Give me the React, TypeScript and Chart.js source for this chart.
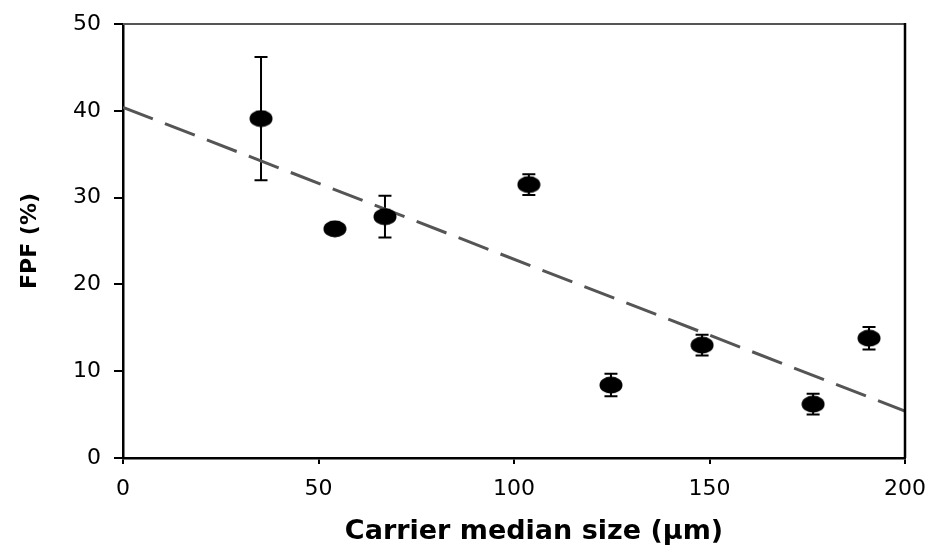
import React, { useEffect, useRef } from "react";
import { Chart, registerables } from "chart.js";

Chart.register(...registerables);

const carrierSize: number[] = [35.3, 54.2, 67.0, 103.8, 124.8, 148.1, 176.5, 190.8];
const fpfValues: number[] = [39.1, 26.4, 27.8, 31.5, 8.4, 13.0, 6.2, 13.8];
const fpfErrors: number[] = [7.1, 0.3, 2.4, 1.2, 1.3, 1.2, 1.2, 1.3];
const trendX: number[] = [0, 200];
const trendY: number[] = [40.4, 5.4];
const xTicks: number[] = [0, 50, 100, 150, 200];
const yTicks: number[] = [0, 10, 20, 30, 40, 50];
const xTitle = "Carrier median size (µm)";
const yTitle = "FPF (%)";

const FONT = "'DejaVu Sans', 'Liberation Sans', Arial, sans-serif";

function makeMarker(): HTMLCanvasElement {
  const c = document.createElement("canvas");
  c.width = 24;
  c.height = 18;
  const g = c.getContext("2d")!;
  g.fillStyle = "#000";
  g.beginPath();
  g.ellipse(12, 9, 11.5, 8.5, 0, 0, Math.PI * 2);
  g.fill();
  return c;
}

const errorBarPlugin = {
  id: "errorBars",
  beforeDatasetsDraw(chart: any) {
    const { ctx, scales } = chart;
    const xs = scales.x;
    const ys = scales.y;
    ctx.save();
    ctx.strokeStyle = "#000";
    ctx.lineWidth = 2;
    for (let i = 0; i < carrierSize.length; i++) {
      const px = xs.getPixelForValue(carrierSize[i]);
      const top = ys.getPixelForValue(fpfValues[i] + fpfErrors[i]);
      const bot = ys.getPixelForValue(fpfValues[i] - fpfErrors[i]);
      ctx.beginPath();
      ctx.moveTo(px, top);
      ctx.lineTo(px, bot);
      ctx.moveTo(px - 6.5, top);
      ctx.lineTo(px + 6.5, top);
      ctx.moveTo(px - 6.5, bot);
      ctx.lineTo(px + 6.5, bot);
      ctx.stroke();
    }
    ctx.restore();
  },
};

const framePlugin = {
  id: "frame",
  afterDraw(chart: any) {
    const { ctx, chartArea } = chart;
    const { left, right, top, bottom } = chartArea;
    ctx.save();
    ctx.lineWidth = 2;
    ctx.strokeStyle = "#555";
    ctx.beginPath();
    ctx.moveTo(left, top);
    ctx.lineTo(right, top);
    ctx.stroke();
    ctx.strokeStyle = "#000";
    ctx.lineWidth = 2.5;
    ctx.beginPath();
    ctx.moveTo(right, top - 1);
    ctx.lineTo(right, bottom);
    ctx.stroke();
    ctx.restore();
  },
};

export default function App() {
  const ref = useRef<HTMLCanvasElement | null>(null);

  useEffect(() => {
    document.body.style.margin = "0";
    const canvas = ref.current;
    if (!canvas) return;
    const marker = makeMarker();
    const chart = new Chart(canvas, {
      type: "scatter",
      data: {
        datasets: [
          {
            type: "line",
            data: trendX.map((x, i) => ({ x, y: trendY[i] })),
            borderColor: "#555",
            borderWidth: 3,
            borderDash: [32, 13],
            pointRadius: 0,
            fill: false,
            order: 2,
          } as any,
          {
            type: "scatter",
            data: carrierSize.map((x, i) => ({ x, y: fpfValues[i] })),
            backgroundColor: "#000",
            borderColor: "#000",
            pointStyle: marker,
            pointRadius: 10,
            pointHoverRadius: 10,
            order: 1,
          },
        ],
      },
      options: {
        animation: false,
        responsive: false,
        maintainAspectRatio: false,
        layout: { padding: { top: 24, right: 28, left: 0, bottom: 0 } },
        plugins: { legend: { display: false }, tooltip: { enabled: false } },
        scales: {
          x: {
            type: "linear",
            min: 0,
            max: 200,
            afterBuildTicks: (s: any) => {
              s.ticks = xTicks.map((v) => ({ value: v }));
            },
            afterFit: (s: any) => {
              s.height = 90;
              s.paddingLeft = 0;
              s.paddingRight = 0;
            },
            afterUpdate: (s: any) => {
              if (!s._shiftedTitle) {
                const orig = s.drawTitle;
                s.drawTitle = function () {
                  this.ctx.save();
                  this.ctx.translate(20, 0);
                  orig.call(this);
                  this.ctx.restore();
                };
                s._shiftedTitle = true;
              }
            },
            grid: {
              drawOnChartArea: false,
              drawTicks: true,
              tickLength: 6,
              color: "#000",
              lineWidth: 2,
            },
            border: { color: "#000", width: 2.5 },
            ticks: {
              padding: 12,
              color: "#000",
              font: { family: FONT, size: 22 },
              maxRotation: 0,
            },
            title: {
              display: true,
              text: xTitle,
              color: "#000",
              font: { family: FONT, size: 27, weight: "bold", lineHeight: 1 },
              padding: { top: 0, bottom: 2.5 },
            },
          },
          y: {
            type: "linear",
            min: 0,
            max: 50,
            afterBuildTicks: (s: any) => {
              s.ticks = yTicks.map((v) => ({ value: v }));
            },
            afterFit: (s: any) => {
              s.width = 123;
              s.paddingTop = 0;
              s.paddingBottom = 0;
            },
            grid: {
              drawOnChartArea: false,
              drawTicks: true,
              tickLength: 9,
              color: "#000",
              lineWidth: 2,
            },
            border: { color: "#000", width: 2.5 },
            ticks: {
              padding: 13,
              color: "#000",
              font: { family: FONT, size: 22 },
            },
            title: {
              display: true,
              text: yTitle,
              color: "#000",
              font: { family: FONT, size: 22, weight: "bold", lineHeight: 1 },
              padding: { top: 19, bottom: 0 },
            },
          },
        },
      },
      plugins: [errorBarPlugin, framePlugin],
    } as any);
    return () => chart.destroy();
  }, []);

  return (
    <div style={{ position: "absolute", left: 0, top: 0, width: 933, height: 548, background: "#fff" }}>
      <canvas ref={ref} width={933} height={548} style={{ width: 933, height: 548, display: "block" }} />
    </div>
  );
}
